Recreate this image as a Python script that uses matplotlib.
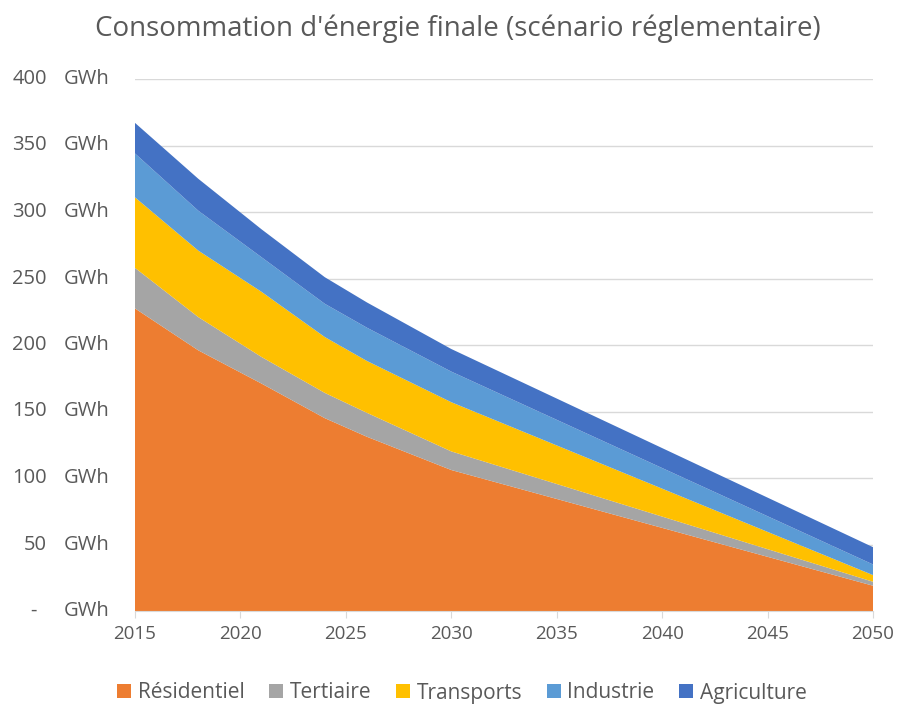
import matplotlib
matplotlib.use('Agg')
import matplotlib.pyplot as plt

# données (GWh)
years = [2015, 2018, 2021, 2024, 2026, 2030, 2050]
residentiel = [227.5, 196, 171, 145, 131, 106, 19]
tertiaire = [30.5, 25, 20, 19, 18, 14, 3]
transports = [53, 50, 49, 42, 39, 37, 5]
industrie = [33, 30, 26, 25, 25, 23, 8]
agriculture = [23, 24, 21, 20, 19, 17, 13]

labels = ['Résidentiel', 'Tertiaire', 'Transports', 'Industrie', 'Agriculture']
colors = ['#ED7D31', '#A5A5A5', '#FFC000', '#5B9BD5', '#4472C4']
yticks = [0, 50, 100, 150, 200, 250, 300, 350, 400]
xticks = [2015, 2020, 2025, 2030, 2035, 2040, 2045, 2050]

txt = '#595959'
grid = '#D9D9D9'
fs = 13.5
plt.rcParams['font.family'] = ['Open Sans', 'DejaVu Sans']

fig = plt.figure(figsize=(8.99, 7.07), dpi=100)
ax = fig.add_axes([135 / 899, 96 / 707, 738 / 899, 532 / 707])

ax.stackplot(years, residentiel, tertiaire, transports, industrie, agriculture,
             labels=labels, colors=colors, linewidth=0, zorder=2)

ax.set_xlim(2015, 2050)
ax.set_ylim(0, 400)
ax.set_xticks(xticks)
ax.set_xticklabels([str(x) for x in xticks], fontsize=fs, color=txt)
ax.set_yticks(yticks)
ax.set_yticklabels([])
ax.tick_params(axis='y', length=0)
ax.tick_params(axis='x', length=5, color=grid, pad=5)
ax.grid(axis='y', color=grid, linewidth=1, zorder=0)
ax.set_axisbelow(True)
for side in ['top', 'right', 'left']:
    ax.spines[side].set_visible(False)
ax.spines['bottom'].set_color(grid)

# étiquettes format comptable : nombre à droite, "GWh" à gauche
tr = ax.get_yaxis_transform()
for v in yticks:
    if v == 0:
        ax.text((37 - 135) / 738, v, '-', transform=tr, ha='right', va='center',
                fontsize=14.5, color=txt)
    else:
        ax.text((47 - 135) / 738, v, str(v), transform=tr, ha='right', va='center',
                fontsize=14.5, color=txt)
    ax.text((64 - 135) / 738, v, 'GWh', transform=tr, ha='left', va='center',
            fontsize=14.5, color=txt)

fig.text(458 / 899, 1 - 29 / 707, "Consommation d'énergie finale (scénario réglementaire)",
         ha='center', va='center', fontsize=20, color=txt)

fig.legend(loc='center', bbox_to_anchor=(462 / 899, 1 - 693 / 707), ncol=5,
           frameon=False, fontsize=15, handlelength=0.67, handleheight=0.67,
           handletextpad=0.3, columnspacing=1.2, labelcolor=txt)

fig.savefig('out.png', dpi=100)
